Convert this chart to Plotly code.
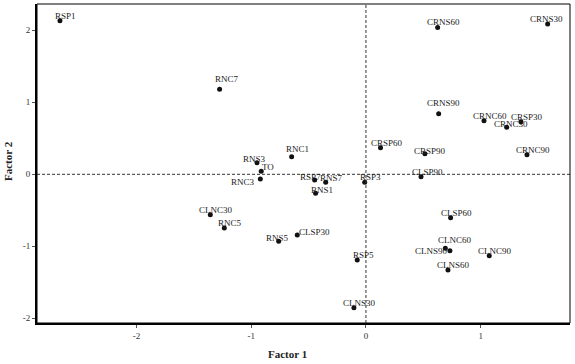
import plotly.graph_objects as go

labels = ["RSP1", "RNC7", "RNS3", "TO", "RNC3", "RNC1", "RSP7", "RNS7", "RNS1", "RSP3",
          "CRSP60", "CRNS60", "CRNS30", "CRNS90", "CRNC60", "CRSP30", "CRNC30", "CRSP90",
          "CRNC90", "CLSP90", "CLNC30", "RNC5", "RNS5", "CLSP60", "CLSP30", "CLNS90",
          "CLNC60", "CLNC90", "CLNS60", "RSP5", "CLNS30"]
factor1 = [-2.668, -1.276, -0.950, -0.913, -0.921, -0.648, -0.447, -0.351, -0.439, -0.011,
           0.127, 0.625, 1.584, 0.634, 1.029, 1.351, 1.227, 0.514,
           1.404, 0.480, -1.357, -1.235, -0.761, 0.738, -0.599, 0.692,
           0.732, 1.075, 0.715, -0.076, -0.105]
factor2 = [2.133, 1.180, 0.161, 0.042, -0.065, 0.244, -0.079, -0.111, -0.264, -0.111,
           0.370, 2.040, 2.087, 0.842, 0.745, 0.731, 0.653, 0.286,
           0.272, -0.033, -0.561, -0.746, -0.931, -0.603, -0.843, -1.028,
           -1.061, -1.130, -1.329, -1.190, -1.853]

x_ticks = [-2, -1, 0, 1]
y_ticks = [-2, -1, 0, 1, 2]

# label placement (pixel offsets of label centre from point: right, up)
default_offset = (6, 5)
label_offsets = {"RNC7": (7, 10), "RNS3": (-2, 4), "TO": (7, 4), "RNC1": (6, 8),
                 "RNC3": (-17, -3), "RSP7": (-4, 3), "RNS7": (6, 4), "RNS1": (6, 3),
                 "CRNS30": (-1, 5), "CRNS90": (5, 11), "CRNC30": (4, 3), "CRSP90": (5, 3),
                 "RNS5": (-1, 3), "CLSP30": (17, 3), "CLNC60": (5, 11), "CLNS90": (-14, -3)}

serif = "Liberation Serif"
W, H = 575, 364
L, R, T, B = 37, 5, 4, 41
pw, ph = W - L - R, H - T - B

fig = go.Figure()
fig.add_trace(go.Scatter(x=factor1, y=factor2, mode="markers",
                         marker=dict(color="#111111", size=5),
                         hoverinfo="text", text=labels, showlegend=False))

for lab, xv, yv in zip(labels, factor1, factor2):
    dx, dy = label_offsets.get(lab, default_offset)
    fig.add_annotation(x=xv, y=yv, text=lab, showarrow=False,
                       xanchor="center", yanchor="middle", xshift=dx, yshift=dy,
                       font=dict(family=serif, size=9, color="#222222"))

fig.add_shape(type="line", x0=0, x1=0, y0=0, y1=1, xref="x", yref="paper",
              line=dict(color="#333333", width=1, dash="3px,2px"))
fig.add_shape(type="line", x0=0, x1=1, y0=0, y1=0, xref="paper", yref="y",
              line=dict(color="#333333", width=1, dash="3px,2px"))
fig.add_shape(type="rect", x0=0, x1=1, y0=0, y1=1, xref="paper", yref="paper",
              line=dict(color="black", width=1))

fig.add_annotation(x=(287 - L) / pw, y=-(354 - (T + ph)) / ph, xref="paper", yref="paper",
                   text="<b>Factor 1</b>", showarrow=False, xanchor="center", yanchor="middle",
                   font=dict(family=serif, size=11, color="#222222"))
fig.add_annotation(x=-(L - 8) / pw, y=(T + ph - 161) / ph, xref="paper", yref="paper",
                   text="<b>Factor 2</b>", showarrow=False, textangle=-90,
                   xanchor="center", yanchor="middle",
                   font=dict(family=serif, size=11, color="#222222"))

fig.update_layout(
    width=W, height=H,
    margin=dict(l=L, r=R, t=T, b=B),
    paper_bgcolor="white", plot_bgcolor="white",
    font=dict(family=serif, size=9, color="#333333"),
    xaxis=dict(range=[-2.868, 1.779], tickvals=x_ticks, ticktext=[str(v) for v in x_ticks],
               showgrid=False, zeroline=False, showline=True, linecolor="black", linewidth=2,
               ticks="outside", ticklen=3, tickcolor="#555555", automargin=False,
               tickfont=dict(family=serif, size=9, color="#333333")),
    yaxis=dict(range=[-2.065, 2.365], tickvals=y_ticks, ticktext=[str(v) for v in y_ticks],
               showgrid=False, zeroline=False, showline=True, linecolor="black", linewidth=2,
               ticks="outside", ticklen=3, tickcolor="#555555", automargin=False,
               tickfont=dict(family=serif, size=9, color="#333333")),
)

fig.write_html("out.html", config={"displayModeBar": False},
               post_script="document.body.style.margin='0';")
